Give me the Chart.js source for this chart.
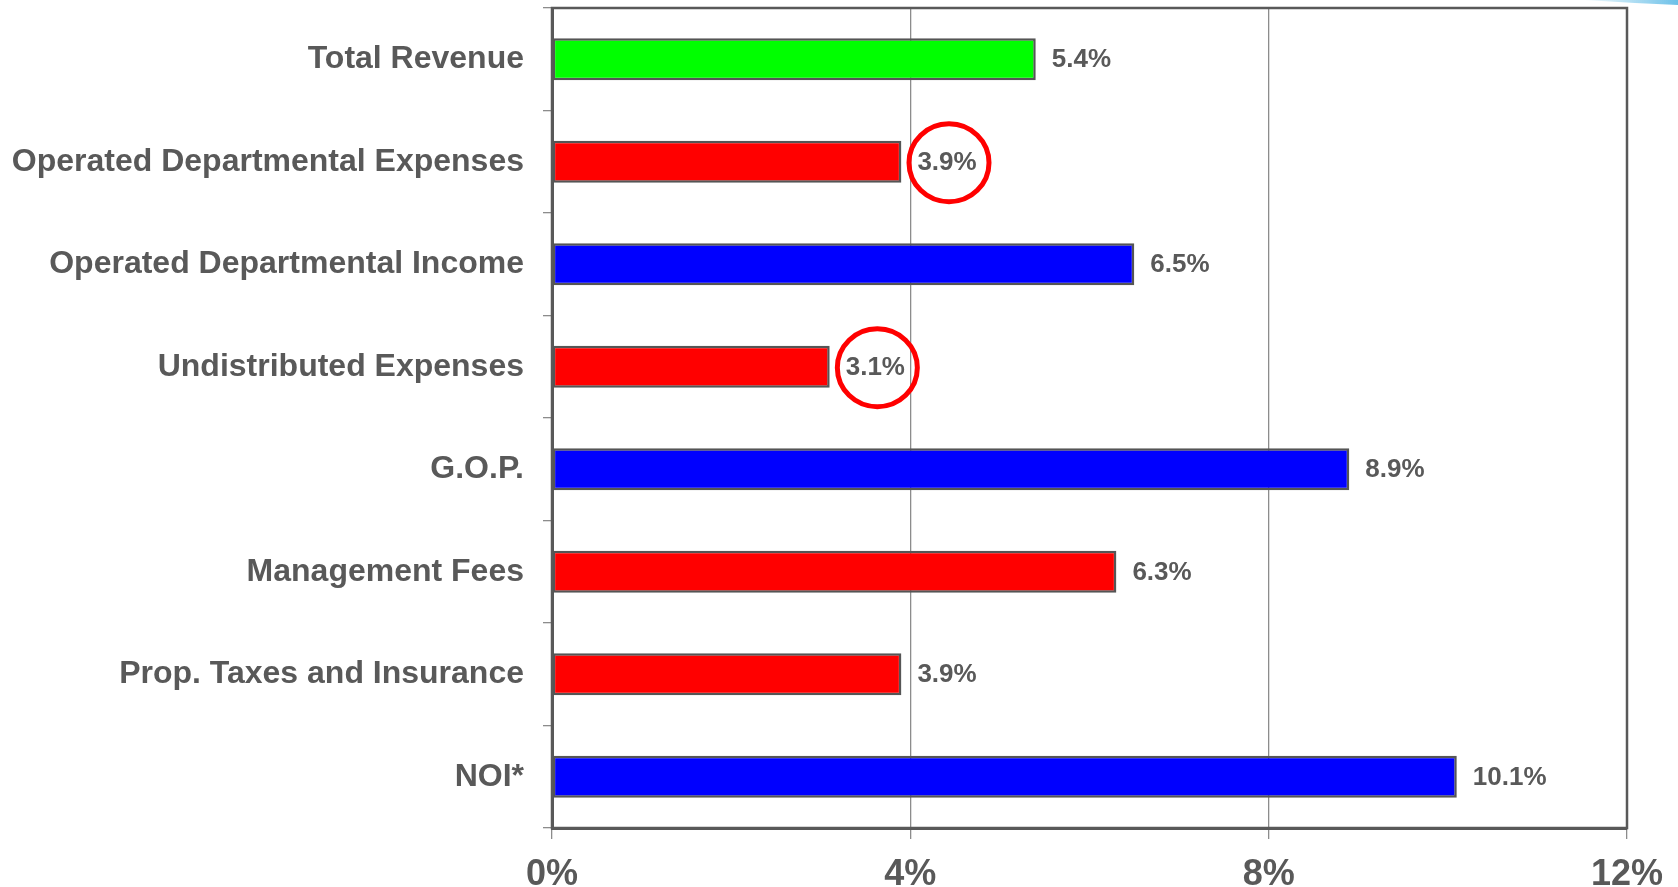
<!DOCTYPE html>
<html>
<head>
<meta charset="utf-8">
<script src="https://cdn.jsdelivr.net/npm/chart.js@4.4.0/dist/chart.umd.min.js"></script>
<style>
  html, body { margin: 0; padding: 0; background: #fff; }
  canvas { display: block; }
</style>
</head>
<body>
<canvas id="growthChart" width="1678" height="887"></canvas>
<script>
// ---- data ----
const categories = [
  "Total Revenue",
  "Operated Departmental Expenses",
  "Operated Departmental Income",
  "Undistributed Expenses",
  "G.O.P.",
  "Management Fees",
  "Prop. Taxes and Insurance",
  "NOI*"
];
const growth = [5.4, 3.9, 6.5, 3.1, 8.9, 6.3, 3.9, 10.1];
const barColors = ["#00ff00", "#ff0000", "#0000ff", "#ff0000", "#0000ff", "#ff0000", "#ff0000", "#0000ff"];
const xTicks = [0, 4, 8, 12];
const circledRows = [1, 3];

const FONT = "'Liberation Sans', Arial, Helvetica, sans-serif";
const TEXT = "#595959";
const FRAME = "#595959";
const GRID = "#8c8c8c";

// value text to the right of each bar, red rings on the flagged rows
const valueLabels = {
  id: "valueLabels",
  afterDatasetsDraw(chart) {
    const ctx = chart.ctx;
    const meta = chart.getDatasetMeta(0);
    ctx.save();
    ctx.font = "bold 26px " + FONT;
    ctx.fillStyle = TEXT;
    ctx.textBaseline = "middle";
    meta.data.forEach((bar, i) => {
      const label = growth[i].toFixed(1) + "%";
      const x = bar.x + 16;
      ctx.fillText(label, x, bar.y + 1);
      if (circledRows.includes(i)) {
        const w = ctx.measureText(label).width;
        ctx.beginPath();
        ctx.ellipse(x + w / 2 + 2, bar.y + 1, 40, 39, 0, 0, Math.PI * 2);
        ctx.strokeStyle = "#ff0000";
        ctx.lineWidth = 5;
        ctx.stroke();
      }
    });
    ctx.restore();
  }
};

// box round the plot area + the little blue swoosh top right
const frame = {
  id: "frame",
  afterDraw(chart) {
    const { ctx, chartArea: a } = chart;
    ctx.save();
    ctx.strokeStyle = FRAME;
    ctx.lineWidth = 2.5;
    ctx.strokeRect(a.left, a.top, a.right - a.left, a.bottom - a.top);

    const g = ctx.createLinearGradient(1585, 0, 1678, 0);
    g.addColorStop(0, "rgba(120,200,235,0.1)");
    g.addColorStop(1, "#6cc0e8");
    ctx.fillStyle = g;
    ctx.beginPath();
    ctx.moveTo(1585, 0);
    ctx.quadraticCurveTo(1630, 3, 1678, 5);
    ctx.lineTo(1678, 0);
    ctx.closePath();
    ctx.fill();
    ctx.restore();
  }
};

new Chart(document.getElementById("growthChart"), {
  type: "bar",
  data: {
    labels: categories,
    datasets: [{
      data: growth,
      backgroundColor: barColors,
      borderColor: "#555555",
      borderWidth: 2.5,
      borderSkipped: false,
      barPercentage: 0.41,
      categoryPercentage: 1
    }]
  },
  options: {
    indexAxis: "y",
    responsive: false,
    animation: false,
    layout: { padding: { top: 8, right: 51, left: 0, bottom: 0 } },
    plugins: {
      legend: { display: false },
      tooltip: { enabled: false }
    },
    scales: {
      x: {
        min: 0,
        max: 12,
        afterBuildTicks: (scale) => { scale.ticks = xTicks.map(v => ({ value: v })); },
        afterFit: (scale) => { scale.height = 59; },
        grid: { color: GRID, lineWidth: 1.3, tickLength: 11, tickColor: GRID },
        border: { display: true, color: FRAME, width: 3 },
        ticks: {
          padding: 14,
          color: TEXT,
          font: { family: FONT, size: 36, weight: "bold" },
          callback: (v) => v + "%"
        }
      },
      y: {
        afterFit: (scale) => {
          scale.width = 552;
          scale.paddingTop = 0;
          scale.paddingBottom = 0;
        },
        grid: { offset: true, drawOnChartArea: false, color: GRID, tickLength: 9, lineWidth: 1.3 },
        border: { display: true, color: FRAME, width: 3 },
        ticks: {
          padding: 19,
          color: TEXT,
          font: { family: FONT, size: 32, weight: "bold" }
        }
      }
    }
  },
  plugins: [valueLabels, frame]
});
</script>
</body>
</html>
